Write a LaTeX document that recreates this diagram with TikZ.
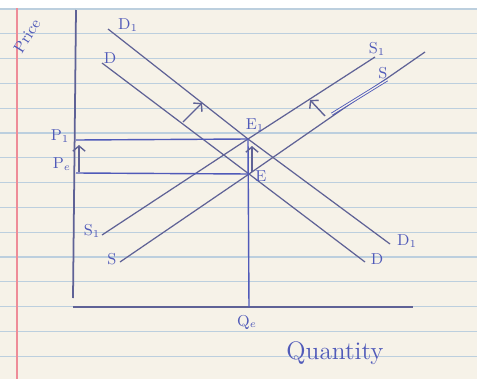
\documentclass[tikz,border=0pt]{standalone}
\usepackage{tikz}
\usetikzlibrary{arrows.meta}
\definecolor{paper}{RGB}{246,242,232}
\definecolor{ruling}{RGB}{188,207,222}
\definecolor{margin}{RGB}{238,140,152}
\definecolor{pen}{RGB}{95,98,150}
\definecolor{penblue}{RGB}{80,90,185}

\begin{document}
\begin{tikzpicture}[x=0.02cm,y=-0.02cm,
  schedule/.style={draw=pen,line width=0.7pt},
  axisline/.style={draw=pen,line width=1pt},
  guideline/.style={draw=penblue,line width=0.8pt},
  shiftarr/.style={draw=pen,line width=0.8pt,-{Straight Barb[length=3pt,width=7pt]}},
  lbl/.style={text=penblue,font=\small,inner sep=1pt},
  rulerow/.style={draw=ruling,line width=0.6pt}
]
\useasboundingbox (0,0) rectangle (477,379);
\fill[white] (0,0) rectangle (477,379);
\fill[paper] (0,8) rectangle (477,379);
\foreach \i in {0,...,14}
  \draw[rulerow] (0,9+24.8*\i) -- (477,9+24.8*\i);
\draw[margin,line width=0.8pt] (17,8) -- (17,379);

% axes
\coordinate (ytop) at (76,10);
\coordinate (ybot) at (73,298);
\coordinate (xbeg) at (73,307);
\coordinate (xend) at (413,307);
\coordinate (qe) at (249,307);
\draw[axisline] (ytop) -- (ybot);
\draw[axisline] (xbeg) -- (xend);

% equilibria
\coordinate (E1) at (248,139);
\coordinate (E) at (249,174);
\coordinate (p1) at (76,140);
\coordinate (pe) at (76,173);

% demand and supply
\coordinate (D1a) at (108,29);
\coordinate (D1b) at (390,244);
\coordinate (Da) at (102,63);
\coordinate (Db) at (365,262);
\coordinate (S1a) at (102,235);
\coordinate (S1b) at (375,57);
\coordinate (Sa) at (120,262);
\coordinate (Sb) at (425,52);
\draw[schedule] (D1a) -- (E1) -- (D1b);
\draw[schedule] (Da) -- (E) -- (Db);
\draw[schedule] (S1a) -- (E1) -- (S1b);
\draw[schedule] (Sa) -- (E) -- (Sb);
\coordinate (sA) at (332,114);
\coordinate (sB) at (387,80);
\draw[draw=penblue,line width=0.5pt,double=paper,double distance=0.7pt] (sA) -- (sB);

% guides
\draw[guideline] (p1) -- (E1);
\draw[guideline] (pe) -- (E);
\draw[guideline] (qe) -- (E1);

% shifts
\coordinate (upA) at (252,172);
\coordinate (upB) at (252,146);
\coordinate (lfA) at (79,172);
\coordinate (lfB) at (79,145);
\coordinate (dA) at (183,122);
\coordinate (dB) at (202,103);
\coordinate (sC) at (325,116);
\coordinate (sD) at (310,100);
\draw[shiftarr] (upA) -- (upB);
\draw[shiftarr] (lfA) -- (lfB);
\draw[shiftarr] (dA) -- (dB);
\draw[shiftarr] (sC) -- (sD);

% labels
\node[lbl] (lD1t) at (128,25) {D$_1$};
\node[lbl] (lDt) at (110,58) {D};
\node[lbl] (lD1b) at (407,241) {D$_1$};
\node[lbl] (lDb) at (377,259) {D};
\node[lbl] (lS1t) at (377,49) {S$_1$};
\node[lbl] (lSt) at (383,73) {S};
\node[lbl] (lS1b) at (92,231) {S$_1$};
\node[lbl] (lSb) at (112,259) {S};
\node[lbl] (lE1) at (255,125) {E$_1$};
\node[lbl] (lE) at (261,176) {E};
\node[lbl] (lP1) at (60,136) {P$_1$};
\node[lbl] (lPe) at (62,164) {P$_e$};
\node[lbl] (lQe) at (247,322) {Q$_e$};
\node[lbl,font=\Large] (lQty) at (335,353) {Quantity};
\node[lbl,rotate=58] (lPrice) at (27,36) {Price};
\end{tikzpicture}
\end{document}
